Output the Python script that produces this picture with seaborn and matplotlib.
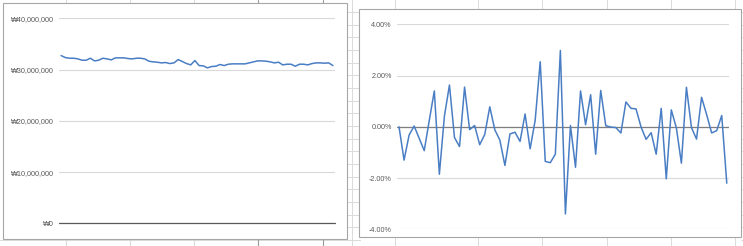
import numpy as np
import pandas as pd
import matplotlib
matplotlib.use("Agg")
import matplotlib.pyplot as plt
from matplotlib.patches import Rectangle
from matplotlib.lines import Line2D
import seaborn as sns

# ---- data ----
price_m = [32.73, 32.34, 32.21, 32.21, 32.08, 31.82, 31.82, 32.21, 31.69, 31.82,
           32.21, 32.08, 31.89, 32.28, 32.28, 32.28, 32.15, 32.08, 32.21, 32.21,
           32.08, 31.63, 31.50, 31.43, 31.30, 31.37, 31.17, 31.30, 31.95, 31.56,
           31.17, 30.91, 31.76, 30.78, 30.72, 30.33, 30.59, 30.65, 30.98, 30.78,
           31.04, 31.11, 31.11, 31.11, 31.11, 31.30, 31.50, 31.69, 31.69, 31.63,
           31.50, 31.30, 31.43, 30.91, 31.04, 31.04, 30.65, 31.04, 31.04, 30.91,
           31.17, 31.30, 31.30, 31.24, 31.30, 30.78]
returns_pct = [0.00, -1.30, -0.32, 0.03, -0.45, -0.93, 0.25, 1.40, -1.85, 0.41,
               1.63, -0.42, -0.77, 1.55, -0.11, 0.05, -0.70, -0.30, 0.78, -0.12,
               -0.52, -1.51, -0.28, -0.21, -0.57, 0.50, -0.86, 0.25, 2.54, -1.35,
               -1.40, -1.07, 2.98, -3.40, 0.05, -1.58, 1.40, 0.08, 1.25, -1.07,
               1.42, 0.04, -0.01, -0.03, -0.24, 0.97, 0.72, 0.70, -0.01, -0.49,
               -0.23, -1.07, 0.72, -2.03, 0.66, -0.04, -1.42, 1.54, -0.03, -0.48,
               1.15, 0.48, -0.24, -0.15, 0.44, -2.20]
price_ticks = [0, 10_000_000, 20_000_000, 30_000_000, 40_000_000]
price_labels = ["₩0", "₩10,000,000", "₩20,000,000", "₩30,000,000", "₩40,000,000"]
ret_ticks = [-4, -2, 0, 2, 4]
ret_labels = ["-4.00%", "-2.00%", "0.00%", "2.00%", "4.00%"]

df_p = pd.DataFrame({"i": np.arange(len(price_m)), "price": np.array(price_m) * 1e6})
df_r = pd.DataFrame({"i": np.arange(len(returns_pct)), "ret": returns_pct})

sns.set_theme(style="white")
plt.rcParams["font.family"] = ["Liberation Sans", "DejaVu Sans"]

W, H = 743, 246
fig = plt.figure(figsize=(W / 100, H / 100), dpi=100)
fig.patch.set_facecolor("white")

def fx(x):
    return x / W

def fy(y):
    return 1 - y / H

# spreadsheet cell grid in the background
cell = "#DADADA"
for yy in np.arange(240, 0, -12.67):
    fig.add_artist(Line2D([fx(346), fx(360)], [fy(yy), fy(yy)], color=cell, lw=0.7, zorder=0))
    fig.add_artist(Line2D([fx(741), fx(743)], [fy(yy), fy(yy)], color=cell, lw=0.7, zorder=0))
fig.add_artist(Line2D([0, fx(360)], [fy(240), fy(240)], color=cell, lw=0.7, zorder=0))
for xx, c in [(65.7, cell), (129.7, cell), (193.7, cell), (258, "#9A9A9A"), (322.5, "#9A9A9A")]:
    fig.add_artist(Line2D([fx(xx), fx(xx)], [0, 1], color=c, lw=0.8, zorder=0))
for xx in [395, 478, 542, 607, 671, 735]:
    fig.add_artist(Line2D([fx(xx), fx(xx)], [0, 1], color=cell, lw=0.7, zorder=0))
fig.add_artist(Line2D([fx(352), fx(352)], [0, 1], color=cell, lw=0.7, zorder=0))

# chart boxes
fig.add_artist(Rectangle((fx(3), fy(238.5)), fx(346.7 - 3), (238.5 - 3) / H,
                         facecolor="white", edgecolor="#A6A6A6", lw=0.8, zorder=1))
fig.add_artist(Rectangle((fx(359.3), fy(236.5)), fx(741 - 359.3), (236.5 - 8.5) / H,
                         facecolor="white", edgecolor="#A6A6A6", lw=0.8, zorder=1))

line_col = "#4A7EC4"
tick_col = "#595959"
grid_col = "#D9D9D9"
fs = 5.2

# ---- left chart ----
ax1 = fig.add_axes([fx(59), fy(223.3), fx(335 - 59), (223.3 - 18.3) / H], zorder=2)
ax1.patch.set_alpha(0)
sns.lineplot(data=df_p, x="i", y="price", ax=ax1, color=line_col, lw=1.1)
ax1.set_ylim(0, 40_000_000)
ax1.set_xlim(-0.5, len(price_m) - 0.5)
ax1.set_yticks(price_ticks)
ax1.set_yticklabels(price_labels)
ax1.set_xticks([])
ax1.grid(axis="y", color=grid_col, lw=0.8)
ax1.axhline(0, color="#595959", lw=0.9, zorder=3, clip_on=False)
for s in ax1.spines.values():
    s.set_visible(False)
ax1.set_xlabel("")
ax1.set_ylabel("")
ax1.tick_params(axis="y", length=0, pad=3.5, labelsize=fs, labelcolor=tick_col)

# ---- right chart ----
ax2 = fig.add_axes([fx(396.5), fy(229.3), fx(729.3 - 396.5), (229.3 - 24.3) / H], zorder=2)
ax2.patch.set_alpha(0)
sns.lineplot(data=df_r, x="i", y="ret", ax=ax2, color=line_col, lw=1.1)
ax2.set_ylim(-4, 4)
ax2.set_xlim(-0.5, len(returns_pct) - 0.5)
ax2.set_yticks(ret_ticks)
ax2.set_yticklabels(ret_labels)
ax2.set_xticks([])
ax2.grid(axis="y", color=grid_col, lw=0.8)
ax2.axhline(0, color="#7F7F7F", lw=0.9, zorder=1.5)
for s in ax2.spines.values():
    s.set_visible(False)
ax2.set_xlabel("")
ax2.set_ylabel("")
ax2.tick_params(axis="y", length=0, pad=3.5, labelsize=fs, labelcolor=tick_col)

fig.savefig("out.png", dpi=100)
